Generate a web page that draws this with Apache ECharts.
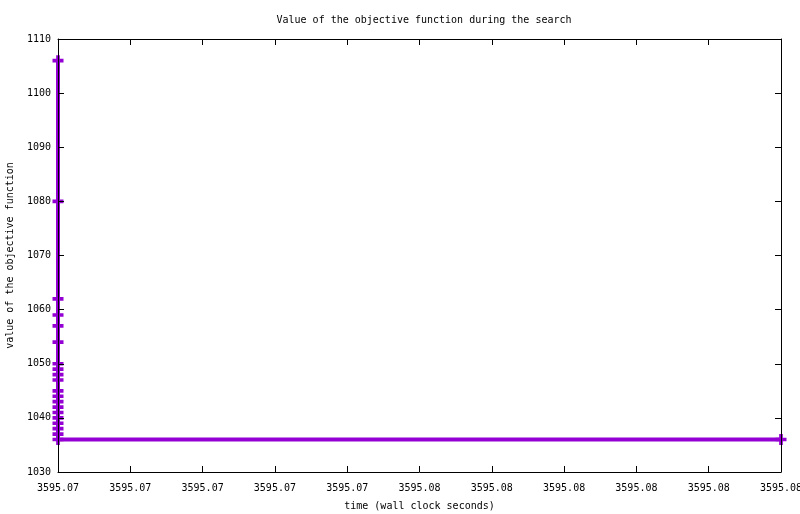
<!DOCTYPE html>
<html><head><meta charset="utf-8">
<script src="https://cdn.jsdelivr.net/npm/echarts@6/dist/echarts.min.js"></script>
<style>html,body{margin:0;padding:0;background:#fff}#c{width:800px;height:514px}</style>
</head><body><div id="c"></div>
<script>
var times = [3595.0700,3595.0700,3595.0700,3595.0700,3595.0700,3595.0700,3595.0700,3595.0700,3595.0700,3595.0700,3595.0700,3595.0700,3595.0700,3595.0700,3595.0700,3595.0700,3595.0700,3595.0700,3595.0700,3595.0700,3595.0800];
var objective = [1106,1080,1062,1059,1057,1054,1050,1049,1048,1047,1045,1044,1043,1042,1041,1040,1039,1038,1037,1036,1036];
var xTickLabels = ['3595.07','3595.07','3595.07','3595.07','3595.07','3595.08','3595.08','3595.08','3595.08','3595.08','3595.08'];
var xMin = 3595.070, xMax = 3595.080, xStep = 0.001;
var yMin = 1030, yMax = 1110, yStep = 10;

var font = 'DejaVu Sans Mono';
var data = times.map(function(t,i){return [t, objective[i]];});
var chart = echarts.init(document.getElementById('c'));
function xl(v){var i=Math.round((v-xMin)/xStep);return xTickLabels[i]||'';}
var tickStyle = {show:true, inside:true, length:6, lineStyle:{color:'#000',width:1}};
chart.setOption({
  animation:false,
  backgroundColor:'#fff',
  title:{text:'Value of the objective function during the search', left:419, top:10, textAlign:'center',
    textStyle:{fontFamily:font,fontSize:10,fontWeight:'normal',color:'#000'}},
  grid:{left:58,right:19,top:39,bottom:42,containLabel:false,outerBoundsMode:'none'},
  xAxis:[{type:'value',min:xMin,max:xMax,interval:xStep,z:10,
    name:'time (wall clock seconds)',nameLocation:'middle',nameGap:29,
    nameTextStyle:{fontFamily:font,fontSize:10,color:'#000'},
    axisLine:{show:true,lineStyle:{color:'#000',width:1}},axisTick:tickStyle,
    axisLabel:{formatter:xl,fontFamily:font,fontSize:10,color:'#000',margin:11,showMaxLabel:true,showMinLabel:true,hideOverlap:false},
    splitLine:{show:false}},
   {type:'value',position:'top',min:xMin,max:xMax,interval:xStep,z:10,
    axisLine:{show:true,lineStyle:{color:'#000',width:1}},axisTick:tickStyle,axisLabel:{show:false},splitLine:{show:false}}],
  yAxis:[{type:'value',min:yMin,max:yMax,interval:yStep,z:10,
    name:'value of the objective function',nameLocation:'middle',nameGap:43,nameRotate:90,
    nameTextStyle:{fontFamily:font,fontSize:10,color:'#000'},
    axisLine:{show:true,lineStyle:{color:'#000',width:1}},axisTick:tickStyle,
    axisLabel:{formatter:function(v){return String(v);},fontFamily:font,fontSize:10,color:'#000',margin:7},splitLine:{show:false}},
   {type:'value',position:'right',min:yMin,max:yMax,interval:yStep,z:10,
    axisLine:{show:true,lineStyle:{color:'#000',width:1}},axisTick:tickStyle,axisLabel:{show:false},splitLine:{show:false}}],
  series:[{type:'line',data:data,clip:false,
    lineStyle:{color:'#9400D3',width:4},itemStyle:{color:'#9400D3'},
    symbol:'path://M0,4L12,4L12,8L0,8ZM4,0L8,0L8,12L4,12Z',symbolSize:11,showSymbol:true}]
});
</script></body></html>
